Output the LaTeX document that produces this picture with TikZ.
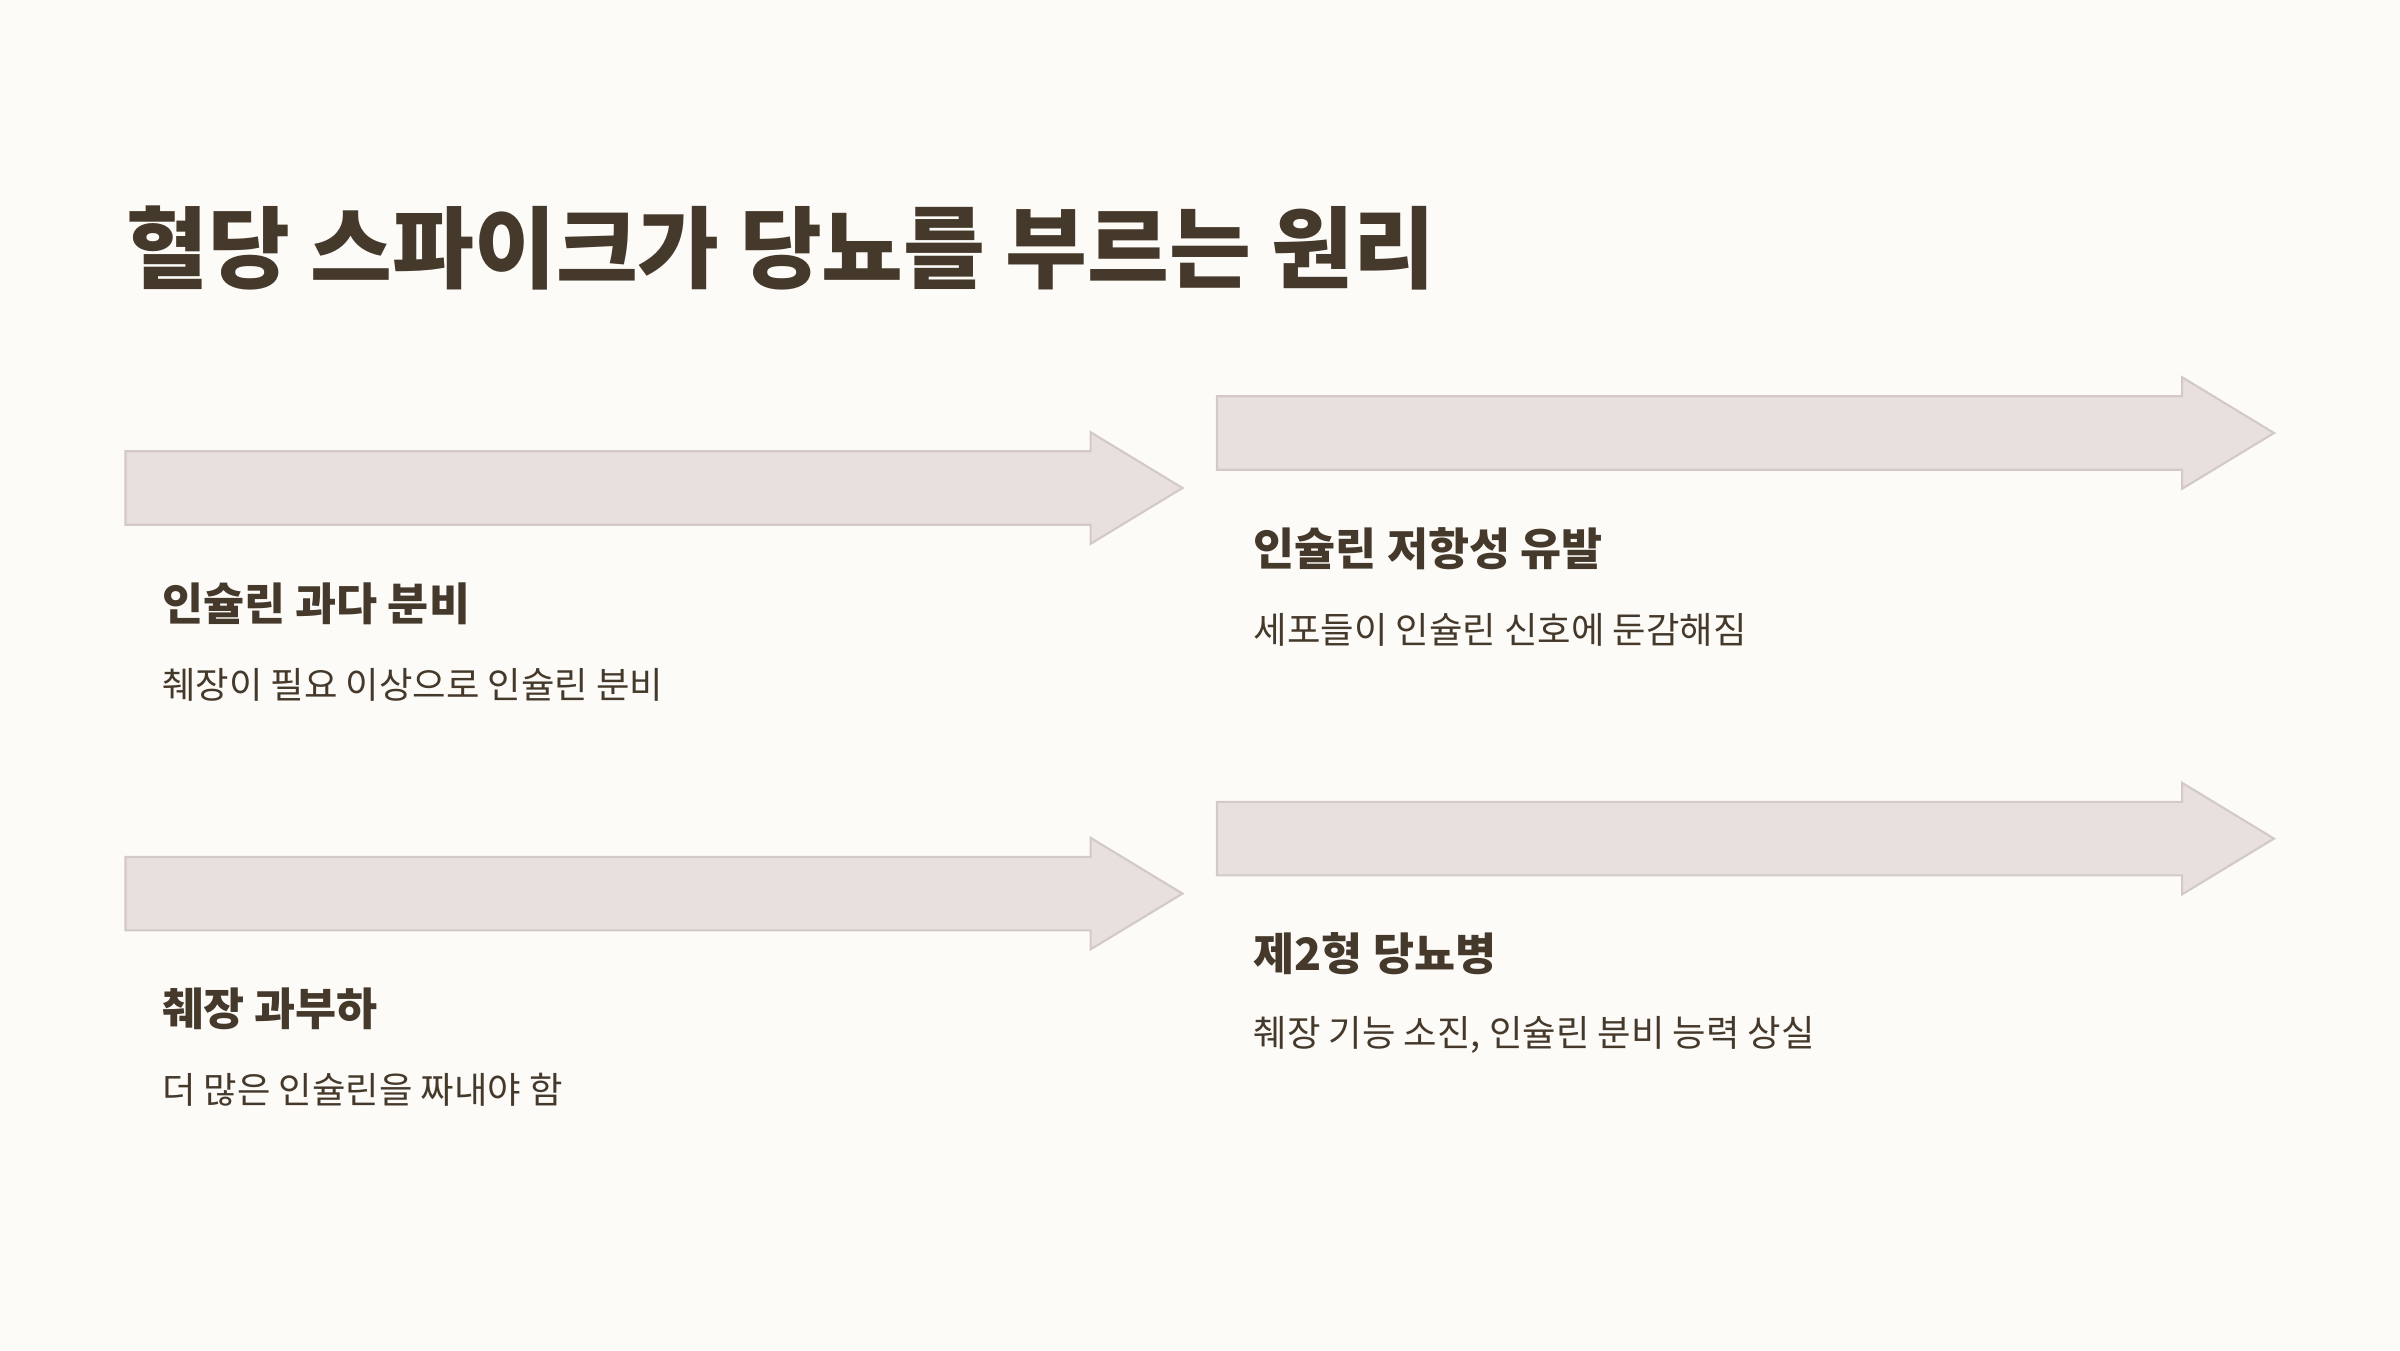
\documentclass[tikz,border=0pt]{standalone}
\usepackage{fontspec}
\setmainfont{Noto Sans CJK KR}
\usepackage{tikz}
\usetikzlibrary{positioning,shapes.arrows}
\definecolor{pagebg}{HTML}{FDFBF8}
\definecolor{arrfill}{HTML}{E8E0DF}
\definecolor{arrline}{HTML}{D3C9C7}
\definecolor{ink}{HTML}{45392B}

\begin{document}
\begin{tikzpicture}[
		arr/.style={
			single arrow,
			draw=arrline,
			fill=arrfill,
			line width=0.6pt,
			inner xsep=0pt,
			inner ysep=0.357cm,
			outer sep=0pt,
			minimum height=10.57cm,
			single arrow head extend=0.19cm,
			single arrow tip angle=62.5,
			anchor=tail
		},
		ttl/.style={
			text=ink,
			inner sep=0pt,
			anchor=west,
			font=\fontsize{25.3}{30}\selectfont\bfseries
		},
		head/.style={
			text=ink,
			inner sep=0pt,
			font=\fontsize{12.7}{15}\selectfont\bfseries
		},
		desc/.style={
			text=ink,
			inner sep=0pt,
			font=\fontsize{10.35}{13}\selectfont
		}
		]
		
		\fill[pagebg] (0,0) rectangle (24,13.5);
		\useasboundingbox (0,0) rectangle (24,13.5);
		
		\node[ttl] (title) at (1.26, 11.025) {혈당 스파이크가 당뇨를 부르는 원리};
		
		\node[arr] (a1) at (1.255, 8.62) {};
		\node[arr] (a2) at (12.17, 9.17) {};
		\node[arr] (a3) at (1.255, 4.564) {};
		\node[arr] (a4) at (12.17, 5.114) {};
		
		\node[head, below right=11.55mm and 3.6mm of a1.tail, anchor=west] 
		(h1) {인슐린 과다 분비};
		\node[desc, below=8.1mm of h1.west, anchor=west] 
		(d1) {췌장이 필요 이상으로 인슐린 분비};
		
		\node[head, below right=11.55mm and 3.6mm of a2.tail, anchor=west] 
		(h2) {인슐린 저항성 유발};
		\node[desc, below=8.1mm of h2.west, anchor=west] 
		(d2) {세포들이 인슐린 신호에 둔감해짐};
		
		\node[head, below right=11.55mm and 3.6mm of a3.tail, anchor=west] 
		(h3) {췌장 과부하};
		\node[desc, below=8.1mm of h3.west, anchor=west] 
		(d3) {더 많은 인슐린을 짜내야 함};
		
		\node[head, below right=11.55mm and 3.6mm of a4.tail, anchor=west] 
		(h4) {제2형 당뇨병};
		\node[desc, below=8.1mm of h4.west, anchor=west] 
		(d4) {췌장 기능 소진, 인슐린 분비 능력 상실};
		
		\end{tikzpicture}
\end{document}
